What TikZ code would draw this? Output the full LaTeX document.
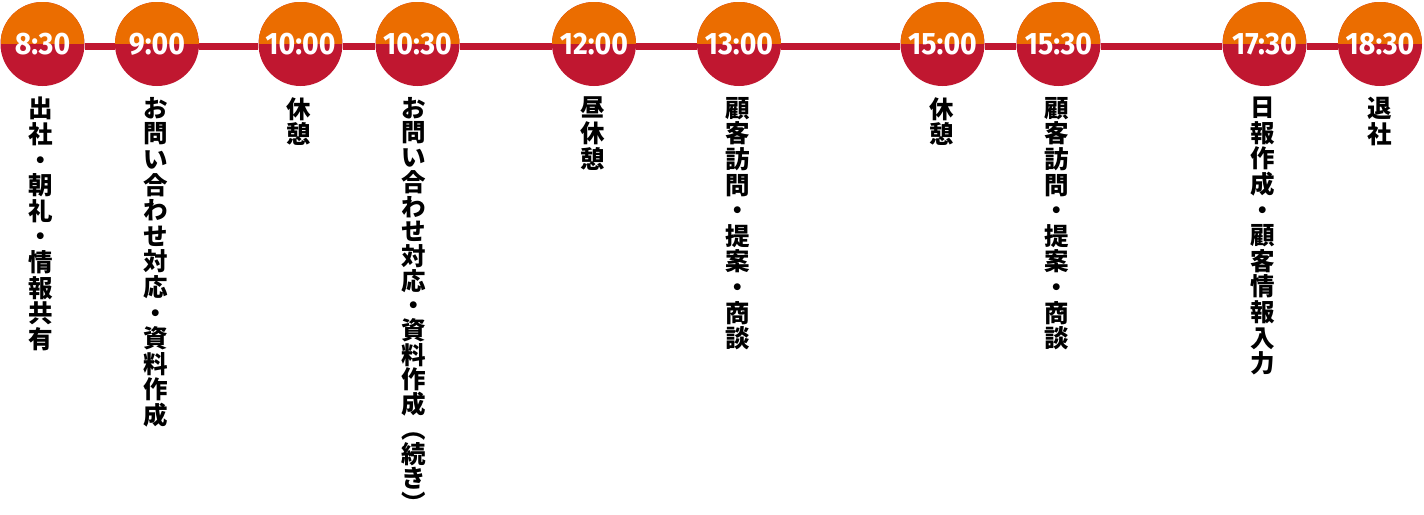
\documentclass[tikz,border=0pt]{standalone}
\usepackage{fontspec}
\newfontfamily\cjk{Noto Sans CJK JP}
\newfontfamily\timefont[FakeStretch=0.92]{Fira Sans}
\usetikzlibrary{backgrounds}
\definecolor{corange}{RGB}{235,109,0}
\definecolor{cred}{RGB}{192,23,48}
\tikzset{
  tcircle/.style={circle, minimum size=84pt, inner sep=0pt, fill=cred,
    path picture={\fill[corange] (path picture bounding box.north west) rectangle (path picture bounding box.east);},
    text=white, font=\timefont\bfseries\fontsize{31}{31}\selectfont},
  vlab/.style={anchor=north, inner sep=0pt, align=center,
    font=\cjk\bfseries\fontsize{24.5}{25.6}\selectfont, text=black},
  vlabtight/.style={vlab, font=\cjk\bfseries\fontsize{24.5}{24.7}\selectfont},
  tline/.style={draw=cred, line width=7pt}
}
\begin{document}
\begin{tikzpicture}[x=1pt,y=-1pt]
\useasboundingbox (0,0) rectangle (1424,514);
\node[tcircle] (c1) at (42.5,44) {8:30};
\node[tcircle] (c2) at (157,44) {9:00};
\node[tcircle] (c3) at (300.5,44) {10:00};
\node[tcircle] (c4) at (417.5,44) {10:30};
\node[tcircle] (c5) at (594,44) {12:00};
\node[tcircle] (c6) at (739,44) {13:00};
\node[tcircle] (c7) at (942.5,44) {15:00};
\node[tcircle] (c8) at (1058.5,44) {15:30};
\node[tcircle] (c9) at (1264.5,44) {17:30};
\node[tcircle] (c10) at (1380,44) {18:30};
\begin{scope}[on background layer]
\foreach \a/\b in {c1/c2,c2/c3,c3/c4,c4/c5,c5/c6,c6/c7,c7/c8,c8/c9,c9/c10}
  \draw[tline] ([yshift=-2.5pt]\a.east) -- ([yshift=-2.5pt]\b.west);
\end{scope}
\node[vlab] (t1) at (41,97) {出\\社\\・\\朝\\礼\\・\\情\\報\\共\\有};
\node[vlab] (t2) at (156,97) {お\\問\\い\\合\\わ\\せ\\対\\応\\・\\資\\料\\作\\成};
\node[vlab] (t3) at (299,97) {休\\憩};
\node[vlabtight] (t4) at (414,97) {お\\問\\い\\合\\わ\\せ\\対\\応\\・\\資\\料\\作\\成\\︵\\続\\き\\︶};
\node[vlab] (t5) at (593,97) {昼\\休\\憩};
\node[vlab] (t6) at (738,97) {顧\\客\\訪\\問\\・\\提\\案\\・\\商\\談};
\node[vlab] (t7) at (942,97) {休\\憩};
\node[vlab] (t8) at (1057,97) {顧\\客\\訪\\問\\・\\提\\案\\・\\商\\談};
\node[vlab] (t9) at (1263,97) {日\\報\\作\\成\\・\\顧\\客\\情\\報\\入\\力};
\node[vlab] (t10) at (1380,97) {退\\社};
\end{tikzpicture}
\end{document}
